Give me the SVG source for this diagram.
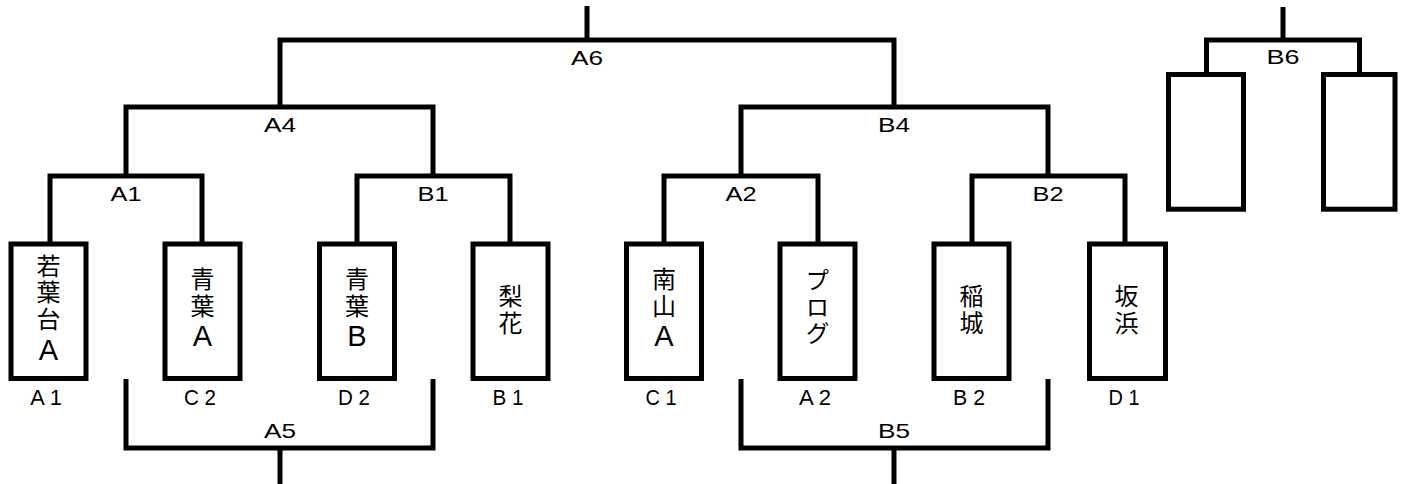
<svg xmlns="http://www.w3.org/2000/svg" width="1409" height="484" viewBox="0 0 1409 484">
<style>
.ln{fill:none;stroke:#000;stroke-width:5;stroke-linejoin:miter;stroke-linecap:butt}
.box{fill:#fff;stroke:#000;stroke-width:5}
.jp{font-family:"Noto Sans CJK JP","Noto Sans CJK SC",sans-serif;font-size:24px;text-anchor:middle;fill:#000;writing-mode:vertical-rl;text-orientation:upright;letter-spacing:2.7px}
.big{font-family:"Liberation Sans","Noto Sans CJK JP",sans-serif;font-size:29px}
.la{font-family:"Liberation Sans",Arial,sans-serif;text-anchor:middle;fill:#000}
.bl{font-size:21px}
.sd{font-size:22px}
</style>
<rect width="1409" height="484" fill="#fff"/>
<g id="connectors">
<line class="ln" x1="587" y1="6" x2="587" y2="40"/>
<polyline class="ln" points="280,107 280,40 894,40 894,107"/>
<polyline class="ln" points="126,176 126,107 433,107 433,176"/>
<polyline class="ln" points="741,176 741,107 1048,107 1048,176"/>
<polyline class="ln" points="50,244 50,176 202,176 202,244"/>
<polyline class="ln" points="357,244 357,176 510,176 510,244"/>
<polyline class="ln" points="664,244 664,176 818,176 818,244"/>
<polyline class="ln" points="972,244 972,176 1125,176 1125,244"/>
<polyline class="ln" points="126,379 126,448 433,448 433,379"/>
<line class="ln" x1="280" y1="448" x2="280" y2="484"/>
<polyline class="ln" points="741,379 741,448 1048,448 1048,379"/>
<line class="ln" x1="894" y1="448" x2="894" y2="484"/>
<line class="ln" x1="1283" y1="7" x2="1283" y2="40"/>
<polyline class="ln" points="1206.5,74 1206.5,40 1359.5,40 1359.5,74"/>
</g>
<g id="bracket-labels">
<text class="la bl" x="587" y="65" textLength="32" lengthAdjust="spacingAndGlyphs">A6</text>
<text class="la bl" x="280" y="132" textLength="32" lengthAdjust="spacingAndGlyphs">A4</text>
<text class="la bl" x="894" y="132" textLength="32" lengthAdjust="spacingAndGlyphs">B4</text>
<text class="la bl" x="126" y="201" textLength="31" lengthAdjust="spacingAndGlyphs">A1</text>
<text class="la bl" x="433" y="201" textLength="31" lengthAdjust="spacingAndGlyphs">B1</text>
<text class="la bl" x="741" y="201" textLength="31" lengthAdjust="spacingAndGlyphs">A2</text>
<text class="la bl" x="1048" y="201" textLength="31" lengthAdjust="spacingAndGlyphs">B2</text>
<text class="la bl" x="280" y="438" textLength="32" lengthAdjust="spacingAndGlyphs">A5</text>
<text class="la bl" x="894" y="438" textLength="32" lengthAdjust="spacingAndGlyphs">B5</text>
<text class="la bl" x="1283" y="64" textLength="33" lengthAdjust="spacingAndGlyphs">B6</text>
</g>
<g id="n1">
<rect class="box" x="11" y="244" width="75" height="134.5"/>
<text class="jp" x="48.5" y="311">若葉台<tspan class="big">A</tspan></text>
<text class="la sd" x="46" y="404.5" textLength="31.5" lengthAdjust="spacingAndGlyphs">A 1</text>
</g>
<g id="n2">
<rect class="box" x="165" y="244" width="75" height="134.5"/>
<text class="jp" x="202.5" y="311">青葉<tspan class="big">A</tspan></text>
<text class="la sd" x="200" y="404.5" textLength="32" lengthAdjust="spacingAndGlyphs">C 2</text>
</g>
<g id="n3">
<rect class="box" x="319.5" y="244" width="75" height="134.5"/>
<text class="jp" x="357" y="311">青葉<tspan class="big">B</tspan></text>
<text class="la sd" x="354" y="404.5" textLength="32" lengthAdjust="spacingAndGlyphs">D 2</text>
</g>
<g id="n4">
<rect class="box" x="473" y="244" width="75" height="134.5"/>
<text class="jp" x="510.5" y="311">梨花</text>
<text class="la sd" x="508" y="404.5" textLength="31" lengthAdjust="spacingAndGlyphs">B 1</text>
</g>
<g id="n5">
<rect class="box" x="626.5" y="244" width="75" height="134.5"/>
<text class="jp" x="664" y="311">南山<tspan class="big">A</tspan></text>
<text class="la sd" x="661" y="404.5" textLength="31" lengthAdjust="spacingAndGlyphs">C 1</text>
</g>
<g id="n6">
<rect class="box" x="780" y="244" width="75" height="134.5"/>
<text class="jp" x="817.5" y="308">プログ</text>
<text class="la sd" x="815" y="404.5" textLength="32" lengthAdjust="spacingAndGlyphs">A 2</text>
</g>
<g id="n7">
<rect class="box" x="934" y="244" width="75" height="134.5"/>
<text class="jp" x="971.5" y="311">稲城</text>
<text class="la sd" x="969" y="404.5" textLength="32" lengthAdjust="spacingAndGlyphs">B 2</text>
</g>
<g id="n8">
<rect class="box" x="1089.5" y="244" width="76" height="134.5"/>
<text class="jp" x="1126.5" y="311">坂浜</text>
<text class="la sd" x="1124" y="404.5" textLength="31" lengthAdjust="spacingAndGlyphs">D 1</text>
</g>
<g id="n9">
<rect class="box" x="1168.5" y="74.5" width="75" height="134.7"/>
</g>
<g id="n10">
<rect class="box" x="1323.5" y="74.5" width="71.5" height="134.7"/>
</g>
</svg>
